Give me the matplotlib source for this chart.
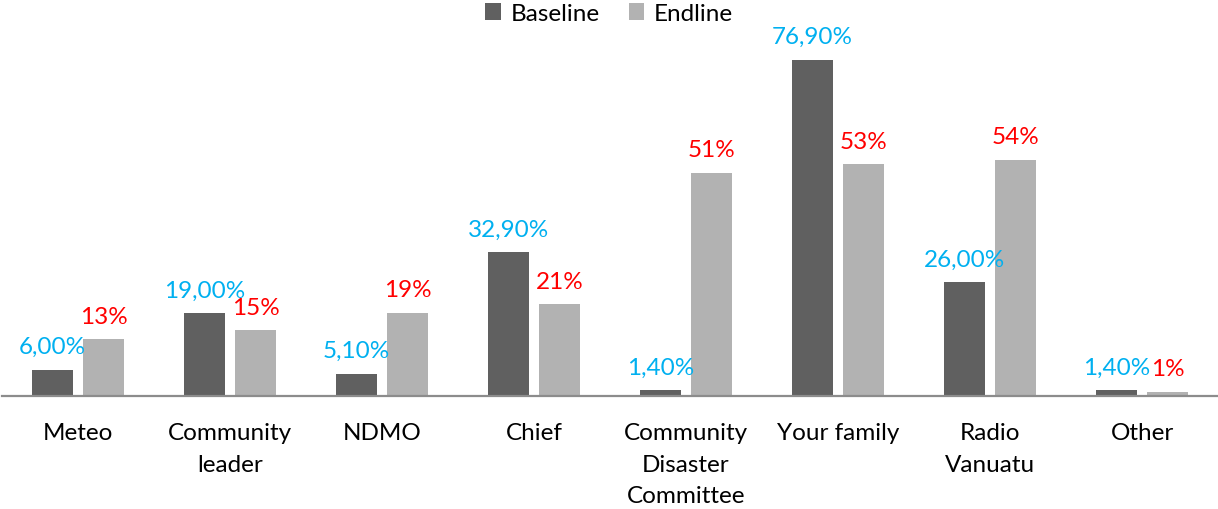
import matplotlib.pyplot as plt
import numpy as np

plt.rcParams['font.family'] = ['Lato', 'DejaVu Sans']

# Fontes de informação: baseline vs endline (%)
categorias = ["Meteo", "Community\nleader", "NDMO", "Chief",
              "Community\nDisaster\nCommittee", "Your family",
              "Radio\nVanuatu", "Other"]
baseline = [6.0, 19.0, 5.1, 32.9, 1.4, 76.9, 26.0, 1.4]
endline = [13, 15, 19, 21, 51, 53, 54, 1]

cor_base = "#606060"
cor_end = "#b2b2b2"

fig = plt.figure(figsize=(12.18, 5.10), dpi=100)
ax = fig.add_axes([2/1218, 113/510, 1216/1218, 350/510])

x = np.arange(len(categorias))
larg = 0.265
desl = 0.168

b1 = ax.bar(x - desl, baseline, larg, color=cor_base, label="Baseline")
b2 = ax.bar(x + desl, endline, larg, color=cor_end, label="Endline")

# rótulos dos valores
for xi, v in zip(x - desl, baseline):
    ax.annotate(f"{v:.2f}%".replace(".", ","), (xi, v), xytext=(0, 9),
                textcoords="offset points", ha="center", va="bottom",
                color="#00b0f0", fontsize=17.5, annotation_clip=False)
for xi, v in zip(x + desl, endline):
    ax.annotate(f"{v}%", (xi, v), xytext=(0, 9),
                textcoords="offset points", ha="center", va="bottom",
                color="#ff0000", fontsize=17.5, annotation_clip=False)

ax.set_xlim(-0.5, len(categorias) - 0.5)
ax.set_ylim(0, 80)
ax.set_xticks(x)
ax.set_xticklabels(categorias, fontsize=17.5, linespacing=1.62, va="top")
ax.tick_params(axis="x", length=0, pad=19)
ax.set_yticks([])
for s in ["top", "right", "left"]:
    ax.spines[s].set_visible(False)
ax.spines["bottom"].set_color("#8c8c8c")
ax.spines["bottom"].set_linewidth(1.6)

fig.legend(handles=[b1, b2], loc="upper center", bbox_to_anchor=(0.5, 1.035),
           ncol=2, frameon=False, fontsize=17.5, handlelength=0.65,
           handleheight=0.65, handletextpad=0.4, columnspacing=1.2)

fig.savefig("out.png", dpi=100)
